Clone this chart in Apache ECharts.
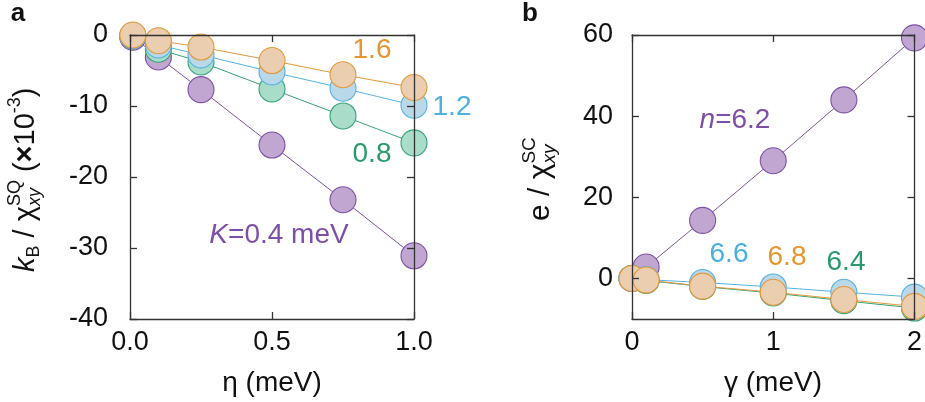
<!DOCTYPE html>
<html>
<head>
<meta charset="utf-8">
<script src="https://cdn.jsdelivr.net/npm/echarts@6/dist/echarts.min.js"></script>
<style>
html,body{margin:0;padding:0;background:#fff;}
#c{width:925px;height:402px;}
</style>
</head>
<body>
<div id="c"></div>
<script>
// ---- Panel a data ----
var etaA = [0.01, 0.1, 0.25, 0.5, 0.75, 1.0];
var kPurpleA = [-0.3, -3.1, -7.7, -15.5, -23.2, -31.1];   // K=0.4
var kGreenA  = [-0.1, -2.0, -3.8, -7.6, -11.4, -15.2];    // 0.8
var kBlueA   = [-0.1, -1.4, -2.8, -5.2, -7.5, -9.9];      // 1.2
var kOrangeA = [0.0, -0.8, -1.7, -3.6, -5.6, -7.4];       // 1.6
var xTicksA = [0, 0.5, 1.0];
var yTicksA = [-40, -30, -20, -10, 0];

// ---- Panel b data ----
var gammaB = [0, 0.1, 0.5, 1.0, 1.5, 2.0];
var nPurpleB = [0.0, 2.8, 14.3, 29.0, 44.0, 59.3];        // n=6.2
var nGreenB  = [0.0, -0.5, -2.0, -3.6, -5.5, -7.3];       // 6.4
var nBlueB   = [0.0, -0.3, -1.0, -2.1, -3.4, -4.6];       // 6.6
var nOrangeB = [0.0, -0.4, -1.9, -3.4, -5.2, -6.9];       // 6.8
var xTicksB = [0, 1, 2];
var yTicksB = [0, 20, 40, 60];

var FONT = "'Liberation Sans', Arial, Helvetica, sans-serif";
var C = {
  purple: {fill: '#c0a6d0', stroke: '#7d52a6', text: '#7d4fa8'},
  green:  {fill: '#a9dcc9', stroke: '#35a378', text: '#2a9a6c'},
  blue:   {fill: '#b9d9e9', stroke: '#56b2e2', text: '#4cb0e2'},
  orange: {fill: '#ebcdb0', stroke: '#e3983a', text: '#e6952f'}
};

function pairs(xs, ys) { return xs.map(function (x, i) { return [x, ys[i]]; }); }

function mkSeries(xi, yi, xs, ys, col) {
  return {
    type: 'line', xAxisIndex: xi, yAxisIndex: yi,
    data: pairs(xs, ys),
    symbol: 'circle', symbolSize: 26, showAllSymbol: true, clip: false,
    lineStyle: {color: col.stroke, width: 1},
    itemStyle: {color: col.fill, borderColor: col.stroke, borderWidth: 1.1, opacity: 1},
    emphasis: {disabled: true}, silent: true, z: 2
  };
}

var axisLineStyle = {color: '#333', width: 1.3};
function xAx(grid, min, max, interval, show, pos, fmt) {
  return {
    type: 'value', gridIndex: grid, min: min, max: max, interval: interval, position: pos, z: 10,
    axisLine: {show: true, onZero: false, lineStyle: axisLineStyle},
    axisTick: {show: true, inside: true, length: 7, lineStyle: axisLineStyle},
    axisLabel: {show: show, color: '#111', fontSize: 27, fontFamily: FONT, margin: 10, formatter: fmt},
    splitLine: {show: false}
  };
}
function yAx(grid, min, max, interval, show, pos, margin, custom) {
  var a = {
    type: 'value', gridIndex: grid, min: min, max: max, interval: interval, position: pos, z: 10,
    axisLine: {show: true, onZero: false, lineStyle: axisLineStyle},
    axisTick: {show: true, inside: true, length: 7, lineStyle: axisLineStyle},
    axisLabel: {show: show, color: '#111', fontSize: 27, fontFamily: FONT, margin: margin},
    splitLine: {show: false}
  };
  if (custom) { a.axisLabel.customValues = custom; a.axisTick.customValues = custom; }
  return a;
}

// measure text for rotated rich labels
var mctx = document.createElement('canvas').getContext('2d');
function tw(t, font) { mctx.font = font; return mctx.measureText(t).width; }

function rotLabel(sx, sy, pieces) {
  // sx: screen x of text middle line, sy: screen y where text begins (bottom)
  var children = [];
  var x = 0;
  pieces.forEach(function (p) {
    if (p.stack) {
      var w = 0;
      p.stack.forEach(function (q) {
        var f = (q.italic ? 'italic ' : '') + q.size + 'px ' + FONT;
        children.push({type: 'text', x: x, y: q.dy, style: {text: q.t, font: f, fill: '#111', verticalAlign: 'middle', align: 'left'}});
        w = Math.max(w, tw(q.t, f));
      });
      x += w;
    } else {
      var f = (p.bold ? 'bold ' : '') + (p.italic ? 'italic ' : '') + p.size + 'px ' + FONT;
      children.push({type: 'text', x: x, y: p.dy || 0, style: {text: p.t, font: f, fill: '#111', verticalAlign: 'middle', align: 'left'}});
      x += tw(p.t, f);
    }
  });
  return {type: 'group', x: sx, y: sy, rotation: Math.PI / 2, children: children, silent: true};
}

function txt(x, y, text, color, size, extra) {
  var o = {type: 'text', x: x, y: y, silent: true,
    style: {text: text, fill: color, font: size + 'px ' + FONT, align: 'center', verticalAlign: 'middle'}};
  if (extra) { for (var k in extra) o.style[k] = extra[k]; }
  return o;
}

var M = 29, S = 18;
var graphics = [
  txt(18, 14, 'a', '#111', 26, {font: 'bold 26px ' + FONT}),
  txt(530, 14, 'b', '#111', 26, {font: 'bold 26px ' + FONT}),
  txt(272, 383, 'η (meV)', '#111', 28),
  txt(773, 383, 'γ (meV)', '#111', 28),
  rotLabel(26, 272, [
    {t: 'k', italic: true, size: M},
    {t: 'B', size: S, dy: 8},
    {t: ' / ', size: M},
    {t: 'χ', size: M},
    {stack: [{t: 'SQ', size: S, dy: -11}, {t: 'xy', italic: true, size: S, dy: 9}]},
    {t: ' (', size: M},
    {t: '×', size: M, bold: true},
    {t: '10', size: M},
    {t: '-3', size: S, dy: -11},
    {t: ')', size: M}
  ]),
  rotLabel(541, 221, [
    {t: 'e', size: 30},
    {t: ' / ', size: 30},
    {t: 'χ', size: 30},
    {stack: [{t: 'SC', size: 19, dy: -11}, {t: 'xy', italic: true, size: 19, dy: 9}]}
  ]),
  txt(372, 50, '1.6', C.orange.text, 28),
  txt(452, 107, '1.2', C.blue.text, 28),
  txt(372, 154, '0.8', C.green.text, 28),
  {type: 'text', x: 279, y: 235, silent: true, style: {
    text: '{i|K}=0.4 meV', fill: C.purple.text, font: '28px ' + FONT, align: 'center', verticalAlign: 'middle',
    rich: {i: {fontStyle: 'italic', fontSize: 28, fontFamily: FONT, fill: C.purple.text}}}},
  {type: 'text', x: 735, y: 120, silent: true, style: {
    text: '{i|n}=6.2', fill: C.purple.text, font: '28px ' + FONT, align: 'center', verticalAlign: 'middle',
    rich: {i: {fontStyle: 'italic', fontSize: 28, fontFamily: FONT, fill: C.purple.text}}}},
  txt(729, 254, '6.6', C.blue.text, 28),
  txt(787, 257, '6.8', C.orange.text, 28),
  txt(846, 262, '6.4', C.green.text, 28)
];

var chart = echarts.init(document.getElementById('c'), null, {renderer: 'canvas'});
chart.setOption({
  animation: false,
  backgroundColor: '#fff',
  grid: [
    {left: 130, top: 35, width: 284, height: 284},
    {left: 632, top: 35, width: 284, height: 284}
  ],
  xAxis: [
    xAx(0, xTicksA[0], xTicksA[xTicksA.length - 1], 0.5, true, 'bottom', function (v) { return v.toFixed(1); }),
    xAx(0, xTicksA[0], xTicksA[xTicksA.length - 1], 0.5, false, 'top'),
    xAx(1, xTicksB[0], xTicksB[xTicksB.length - 1], 1, true, 'bottom', function (v) { return String(v); }),
    xAx(1, xTicksB[0], xTicksB[xTicksB.length - 1], 1, false, 'top')
  ],
  yAxis: [
    yAx(0, yTicksA[0], yTicksA[yTicksA.length - 1], 10, true, 'left', 22),
    yAx(0, yTicksA[0], yTicksA[yTicksA.length - 1], 10, false, 'right', 8),
    yAx(1, -10, 60, 10, true, 'left', 19, yTicksB),
    yAx(1, -10, 60, 10, false, 'right', 8, yTicksB)
  ],
  series: [
    mkSeries(0, 0, etaA, kPurpleA, C.purple),
    mkSeries(0, 0, etaA, kGreenA, C.green),
    mkSeries(0, 0, etaA, kBlueA, C.blue),
    mkSeries(0, 0, etaA, kOrangeA, C.orange),
    mkSeries(2, 2, gammaB, nPurpleB, C.purple),
    mkSeries(2, 2, gammaB, nGreenB, C.green),
    mkSeries(2, 2, gammaB, nBlueB, C.blue),
    mkSeries(2, 2, gammaB, nOrangeB, C.orange)
  ],
  graphic: graphics
});
</script>
</body>
</html>
